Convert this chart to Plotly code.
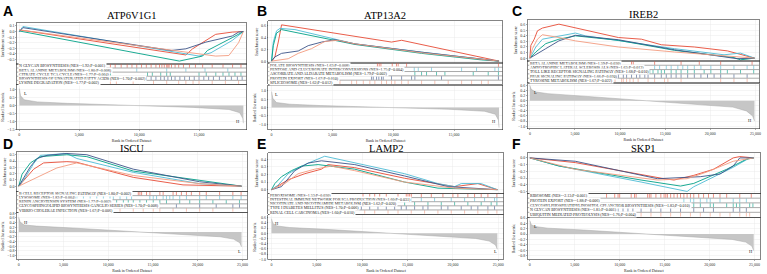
import plotly.graph_objects as go

NPG = ["#E64B35", "#4DBBD5", "#00A087", "#3C5488", "#F39B7F"]
SERIF = "Liberation Serif"

# ---------------- Panel A ----------------
A_gene = "ATP6V1G1"
A_sets = ["N GLYCAN BIOSYNTHESIS (NES=-1.92;P=0.001)",
          "BETA ALANINE METABOLISM (NES=-1.80;P=0.008)",
          "CITRATE CYCLE TCA CYCLE (NES=-1.77;P=0.004)",
          "BIOSYNTHESIS OF UNSATURATED FATTY ACIDS (NES=-1.70;P=0.002)",
          "LYSINE DEGRADATION (NES=-1.77;P=0.002)"]
A_es_rank = [[0, 13900, 14460, 15570, 16390, 17770, 18700],
             [0, 300, 15000, 16000, 17770, 18700],
             [0, 13360, 15290, 15700, 17770, 18700],
             [0, 300, 12670, 13900, 15570, 17770, 18300, 18700],
             [0, 16390, 17490, 18300, 18700]]
A_es = [[0.03, -0.42, -0.31, -0.16, -0.05, -0.01, 0.0],
        [0.0, 0.09, -0.44, -0.38, -0.16, 0.0],
        [0.01, -0.53, -0.44, -0.34, -0.11, 0.0],
        [0.0, 0.07, -0.34, -0.31, -0.19, -0.08, -0.01, 0.0],
        [0.03, -0.44, -0.43, -0.2, 0.0]]
A_hits = [[5800, 6200, 6500, 6800, 7200, 7600, 8000, 8500, 9000, 9400, 9800, 10200, 10600, 11000, 11400, 11700,
           11900, 12100, 12300, 12400, 12500, 12700, 13000, 13300, 13700, 14200, 14700, 15300, 16100, 17000, 17800, 18500],
          [9800, 12300, 13900, 15500, 17400],
          [7600, 10700, 11100, 11800, 12300, 12600, 15000, 15600, 16400, 17000, 17500, 18000, 18500],
          [7300, 7800, 8400, 8900, 9300, 9800, 10200, 10600, 11000, 11400, 11800, 12100, 12400, 12700, 13000, 13400,
           13800, 14200, 14600, 15000, 15400, 15800, 16200, 16700, 17200, 17700, 18200, 18600],
          [7600, 8100, 9500, 11200, 12300, 13300, 13900, 14500, 15000, 16100, 17200, 18300]]
A_metric_rank = [0, 100, 400, 1500, 4000, 9000, 14500, 17500, 18400, 18650, 18700]
A_metric = [1.05, 0.6, 0.35, 0.22, 0.13, 0.0, -0.12, -0.25, -0.45, -0.8, -1.1]

# ---------------- Panel B ----------------
B_gene = "ATP13A2"
B_sets = ["FOLATE BIOSYNTHESIS (NES=1.63;P=0.008)",
          "PENTOSE AND GLUCURONATE INTERCONVERSIONS (NES=1.75;P=0.004)",
          "ASCORBATE AND ALDARATE METABOLISM (NES=1.79;P=0.002)",
          "PROTEIN EXPORT (NES=1.67;P=0.010)",
          "SPLICEOSOME (NES=1.62;P=0.012)"]
B_es_rank = [[0, 270, 550, 820, 9860, 10690, 18700],
             [0, 140, 410, 690, 1920, 6850, 12330, 17260, 18700],
             [0, 140, 410, 820, 6850, 12330, 17260, 18700],
             [0, 270, 820, 2190, 3010, 4110, 5210, 6850, 12330, 17810, 18700],
             [0, 1370, 2190, 3290, 4380, 5480, 6850, 12330, 18700]]
B_es = [[0.0, 0.07, 0.32, 0.61, 0.32, 0.35, 0.0],
        [0.0, 0.32, 0.51, 0.55, 0.53, 0.29, 0.15, 0.03, 0.0],
        [0.0, 0.26, 0.47, 0.53, 0.28, 0.13, 0.02, 0.0],
        [0.0, 0.07, 0.13, 0.17, 0.26, 0.32, 0.36, 0.29, 0.15, 0.03, 0.0],
        [0.0, 0.04, 0.13, 0.21, 0.33, 0.35, 0.29, 0.14, 0.0]]
B_hits = [[8700, 8850, 8990, 9920, 10270, 10410, 11100, 18650],
          [11730, 12060, 13150, 15620, 16850, 18360, 18650],
          [11780, 12330, 12740, 13560, 14250, 16580, 17810, 18650],
          [8220, 8360, 8630, 8820, 9040, 9180, 9860, 10690, 11510, 11780, 13970, 18650],
          [5620, 6580, 6990, 7540, 8080, 8490, 9040, 9450, 9860, 10140, 10690, 11230, 12330, 13420, 14520, 15620,
           16440, 17260, 17810]]
B_metric_rank = [0, 100, 400, 1500, 4000, 9000, 14500, 17500, 18400, 18650, 18700]
B_metric = [0.95, 0.55, 0.3, 0.2, 0.12, 0.0, -0.1, -0.22, -0.4, -0.75, -1.2]

# ---------------- Panel C ----------------
C_gene = "IREB2"
C_sets = ["BETA ALANINE METABOLISM (NES=1.59;P=0.030)",
          "AMYOTROPHIC LATERAL SCLEROSIS ALS (NES=1.63;P=0.013)",
          "TOLL LIKE RECEPTOR SIGNALING PATHWAY (NES=1.68;P=0.010)",
          "PPAR SIGNALING PATHWAY (NES=1.66;P=0.020)",
          "TYROSINE METABOLISM (NES=1.67;P=0.022)"]
C_es_rank = [[0, 110, 480, 840, 1390, 3220, 9810, 12370, 14570, 18230, 21890, 24900],
             [0, 660, 1390, 3220, 5050, 6150, 9810, 16030, 21520, 23350, 24900],
             [0, 660, 1760, 3220, 5050, 9810, 16030, 22620, 23350, 24900],
             [0, 660, 1760, 3220, 5050, 9810, 16030, 22980, 24900],
             [0, 290, 840, 1390, 3220, 5050, 9810, 16030, 24900]]
C_es = [[0.0, 0.23, 0.34, 0.49, 0.54, 0.61, 0.37, 0.34, 0.24, 0.2, 0.13, 0.0],
        [0.0, 0.2, 0.34, 0.39, 0.45, 0.4, 0.31, 0.17, 0.06, 0.09, 0.0],
        [0.0, 0.11, 0.26, 0.34, 0.4, 0.32, 0.14, 0.01, -0.03, 0.0],
        [0.0, 0.06, 0.17, 0.31, 0.41, 0.33, 0.15, -0.01, 0.0],
        [0.0, 0.17, 0.34, 0.42, 0.37, 0.31, 0.2, 0.11, 0.0]]
C_hits = [[11270, 11460, 13830, 16760, 18780, 21150, 24630],
          [13830, 14380, 15120, 15660, 16400, 16950, 17490, 18230, 18960, 20060, 21150, 22620, 24080, 24810],
          [9990, 10170, 10540, 10910, 11460, 11820, 12370, 12740, 13290, 13650, 14200, 14570, 14930, 15660, 16210,
           16760, 17490, 18230, 19320, 20060, 21150, 21890, 23350, 24810],
          [9810, 10360, 10720, 11270, 11820, 12190, 12740, 13100, 13830, 14570, 15120, 15660, 16210, 16760, 17490,
           18230, 18960, 19690, 20420, 21150, 22620, 24080],
          [9440, 10170, 10360, 10720, 11090, 11460, 12000, 13100, 13830, 14930, 15300, 16760, 21150, 22620, 24080]]
C_metric_rank = [0, 150, 600, 2000, 6000, 12000, 18000, 22500, 24000, 24700, 24900]
C_metric = [0.6, 0.45, 0.35, 0.28, 0.18, 0.03, -0.12, -0.25, -0.4, -0.6, -0.8]

# ---------------- Panel D ----------------
D_gene = "ISCU"
D_sets = ["B CELL RECEPTOR SIGNALING PATHWAY (NES=1.80;P=0.002)",
          "LYSOSOME (NES=1.82;P=0.004)",
          "RENIN ANGIOTENSIN SYSTEM (NES=1.77;P=0.002)",
          "GLYCOSPHINGOLIPID BIOSYNTHESIS GANGLIO SERIES (NES=1.70;P=0.008)",
          "VIBRIO CHOLERAE INFECTION (NES=1.67;P=0.006)"]
D_es_rank = [[0, 560, 1670, 2780, 5380, 6490, 12800, 18360, 24900],
             [0, 740, 1670, 2410, 5380, 6490, 12800, 20220, 24900],
             [0, 370, 1300, 2410, 5380, 7610, 12800, 20220, 24900],
             [0, 560, 1300, 2040, 3150, 5380, 7610, 12800, 20220, 24900],
             [0, 1670, 3520, 4270, 6490, 12800, 20220, 24900]]
D_es = [[0.0, 0.09, 0.27, 0.37, 0.39, 0.38, 0.14, 0.02, 0.0],
        [0.0, 0.14, 0.36, 0.49, 0.52, 0.44, 0.22, 0.04, 0.0],
        [0.0, 0.19, 0.37, 0.47, 0.5, 0.47, 0.24, 0.09, 0.0],
        [0.0, 0.14, 0.31, 0.44, 0.49, 0.52, 0.5, 0.27, 0.07, 0.0],
        [0.0, 0.12, 0.24, 0.29, 0.37, 0.17, 0.04, 0.0]]
D_hits = [[13360, 13540, 13730, 14280, 14660, 15770, 16140, 17250, 17620, 18180, 18740, 19290, 20220, 20960, 22450,
           23930, 24850],
          [6490, 7230, 7980, 8720, 9460, 10200, 10570, 11320, 12060, 12610, 14650, 15030, 15400, 16140, 16510, 16880,
           17250, 17990, 18740, 20220, 20960, 22450, 23930, 24850],
          [8350, 9090, 9830, 10940, 11690, 12240, 12800, 13540, 14280, 15030, 15770, 16510, 17990, 19110, 20220, 21700,
           23190, 24670],
          [17620, 20220, 22070, 23930, 24670],
          [9460, 10200, 11320, 12800, 13910, 15030, 15770, 17250, 18740, 20220, 21700, 23930]]
D_metric_rank = [0, 150, 600, 2000, 6000, 12000, 18000, 22500, 24000, 24700, 24900]
D_metric = [0.62, 0.42, 0.3, 0.25, 0.17, 0.03, -0.1, -0.2, -0.3, -0.45, -0.62]

# ---------------- Panel E ----------------
E_gene = "LAMP2"
E_sets = ["PEROXISOME (NES=1.53;P=0.030)",
          "INTESTINAL IMMUNE NETWORK FOR IGA PRODUCTION (NES=1.60;P=0.031)",
          "NICOTINATE AND NICOTINAMIDE METABOLISM (NES=1.62;P=0.020)",
          "TYPE I DIABETES MELLITUS (NES=1.70;P=0.006)",
          "RENAL CELL CARCINOMA (NES=1.60;P=0.010)"]
E_es_rank = [[0, 1840, 3670, 5510, 6240, 9180, 14680, 20190, 22750, 24900],
             [0, 730, 1840, 3670, 5870, 9180, 14680, 18350, 20190, 20920, 23120, 24900],
             [0, 370, 1100, 2200, 3300, 5140, 9180, 14680, 18350, 24900],
             [0, 1100, 2570, 4040, 5510, 9180, 14680, 19450, 24900],
             [0, 1470, 2940, 4770, 6610, 9180, 14680, 20190, 24900]]
E_es = [[0.0, 0.13, 0.21, 0.27, 0.33, 0.29, 0.15, 0.04, 0.08, 0.0],
        [0.0, 0.06, 0.21, 0.33, 0.44, 0.35, 0.21, 0.08, 0.04, 0.08, 0.08, 0.0],
        [0.0, 0.08, 0.17, 0.25, 0.31, 0.33, 0.27, 0.1, 0.02, 0.0],
        [0.0, 0.04, 0.25, 0.35, 0.38, 0.33, 0.18, 0.04, 0.0],
        [0.0, 0.08, 0.21, 0.27, 0.31, 0.25, 0.1, 0.02, 0.0]]
E_hits = [[10090, 10830, 11380, 11930, 12660, 13950, 14860, 15050, 15230, 15420, 16520, 17620, 18900, 20000, 20550,
           21650, 22390, 23120, 23860, 24850],
          [14310, 15410, 16520, 17980, 19820, 21290, 22390, 23490, 24590, 24850],
          [10640, 11740, 12480, 13580, 14680, 15780, 17250, 18720, 20190, 21650, 23120, 24220, 24850],
          [8810, 9910, 10830, 11740, 12660, 13580, 14310, 14860, 15780, 16700, 17250, 18720, 19450, 20920, 22020, 22750,
           23860, 24590],
          [9180, 10280, 11380, 12850, 13950, 15410, 16880, 18350, 19820, 21290, 22750, 23860, 24850]]
E_metric_rank = [0, 150, 600, 2000, 6000, 12000, 18000, 22500, 24000, 24700, 24900]
E_metric = [0.56, 0.38, 0.28, 0.22, 0.15, 0.03, -0.1, -0.2, -0.3, -0.45, -0.62]

# ---------------- Panel F ----------------
F_gene = "SKP1"
F_sets = ["RIBOSOME (NES=-2.13;P=0.001)",
          "PROTEIN EXPORT (NES=-1.88;P=0.006)",
          "GLYCOSYLPHOSPHATIDYLINOSITOL GPI ANCHOR BIOSYNTHESIS (NES=-1.83;P=0.010)",
          "N GLYCAN BIOSYNTHESIS (NES=-1.81;P=0.001)",
          "UBIQUITIN MEDIATED PROTEOLYSIS (NES=-1.76;P=0.004)"]
F_es_rank = [[0, 5050, 14930, 16030, 18230, 20420, 22620, 23350, 24900],
             [0, 3220, 12370, 17490, 18230, 20420, 22620, 24450, 24900],
             [0, 3220, 12370, 16760, 18230, 20420, 21890, 24080, 24900],
             [0, 5050, 14200, 16760, 18960, 21150, 22620, 23350, 24900],
             [0, 5050, 14200, 17490, 19690, 22620, 24900]]
F_es = [[0.0, -0.07, -0.31, -0.33, -0.26, -0.17, 0.0, 0.02, 0.0],
        [0.0, -0.12, -0.36, -0.5, -0.43, -0.29, -0.14, 0.0, 0.0],
        [0.0, -0.12, -0.33, -0.42, -0.38, -0.26, -0.17, -0.02, 0.0],
        [0.0, -0.05, -0.31, -0.29, -0.28, -0.24, -0.12, 0.0, 0.0],
        [0.0, -0.17, -0.33, -0.31, -0.21, -0.05, 0.0]]
F_hits = [[8530, 9440, 9810, 9990, 11270, 11640, 11820, 13100, 13290, 13470, 14020, 14570, 14930, 15120, 15300, 15660,
           16030, 16400, 16760, 17130, 17490, 17860, 18230, 18780, 19320, 19870, 20420, 21150, 21890, 23350, 24630],
          [17130, 17860, 18230, 18960, 19690, 20060, 21150, 22620, 23350, 24080],
          [13100, 14930, 15300, 16030, 16760, 18230, 18960, 20060, 20420, 21890, 22620, 22980, 23350, 24450, 24810],
          [8710, 9260, 9810, 10360, 10910, 11460, 12370, 13470, 14570, 15660, 16760, 18230, 19320, 20420, 22620, 23350,
           24080],
          [10170, 11270, 12370, 13470, 14570, 15660, 16760, 17860, 18960, 20060, 21150, 22260, 23350, 24080, 24450]]
F_metric_rank = [0, 150, 600, 2000, 6000, 12000, 18000, 22500, 24000, 24700, 24900]
F_metric = [0.5, 0.35, 0.28, 0.22, 0.15, 0.03, -0.1, -0.2, -0.3, -0.45, -0.62]

LETTERS = ["A", "B", "C", "D", "E", "F"]
GENES = [A_gene, B_gene, C_gene, D_gene, E_gene, F_gene]
SETS = [A_sets, B_sets, C_sets, D_sets, E_sets, F_sets]
ES_RANKS = [A_es_rank, B_es_rank, C_es_rank, D_es_rank, E_es_rank, F_es_rank]
ES_VALS = [A_es, B_es, C_es, D_es, E_es, F_es]
HITS = [A_hits, B_hits, C_hits, D_hits, E_hits, F_hits]
M_RANKS = [A_metric_rank, B_metric_rank, C_metric_rank, D_metric_rank, E_metric_rank, F_metric_rank]
M_VALS = [A_metric, B_metric, C_metric, D_metric, E_metric, F_metric]
TOP_BOTTOM_TAGS = [("L", "H"), ("L", "H"), ("L", "H"), ("H", "L"), ("H", "L"), ("L", "H")]

# ---------------- Layout (pixels) ----------------
W, H = 767, 274
GEOM = [
    dict(x0=17, x1=247, es=(20, 62), hit=(62, 83), rank=(83, 129), xr=(-200, 18950), esr=(-0.58, 0.16), esd=0.1,
         rr=(-1.5, 1.3), rd=0.5, lx=1, ly=8, ty=13),
    dict(x0=269, x1=504, es=(18, 61), hit=(61, 83), rank=(84, 129), xr=(-270, 19000), esr=(-0.03, 0.68), esd=0.2,
         rr=(-1.32, 1.32), rd=0.5, lx=256, ly=8, ty=13),
    dict(x0=529, x1=761, es=(17, 59), hit=(59, 81), rank=(82, 128), xr=(-250, 25400), esr=(-0.05, 0.69), esd=0.1,
         rr=(-1.1, 0.68), rd=0.2, lx=511, ly=8, ty=12),
    dict(x0=17, x1=248, es=(152, 192), hit=(192, 213), rank=(214, 261), xr=(-200, 25550), esr=(-0.085, 0.54),
         esd=0.1, rr=(-1.15, 0.8), rd=0.2, lx=1, ly=144, ty=148),
    dict(x0=269, x1=505, es=(153, 194), hit=(194, 215), rank=(216, 261), xr=(-350, 25600), esr=(-0.05, 0.48),
         esd=0.1, rr=(-1.0, 0.7), rd=0.2, lx=256, ly=144, ty=148),
    dict(x0=529, x1=762, es=(153, 194), hit=(194, 218), rank=(219, 261), xr=(-250, 25600), esr=(-0.53, 0.07),
         esd=0.1, rr=(-0.94, 0.6), rd=0.2, lx=511, ly=144, ty=148),
]


def fx(px):
    return px / W


def fy(py):
    return 1 - py / H


fig = go.Figure()
layout = dict(width=W, height=H, margin=dict(l=0, r=0, t=0, b=0, pad=0), paper_bgcolor="white",
              plot_bgcolor="white", showlegend=False, font=dict(family=SERIF, size=4, color="#222"))
annotations = []
shapes = []

AX_STYLE = dict(showline=True, mirror=True, linecolor="#333", linewidth=0.6, zeroline=False,
                gridcolor="#e6e6e6", gridwidth=0.4, tickfont=dict(size=4, family=SERIF, color="#333"),
                ticks="outside", ticklen=1, tickwidth=0.4, tickcolor="#333")


def ax_names(n):
    return ("xaxis" if n == 1 else f"xaxis{n}", "yaxis" if n == 1 else f"yaxis{n}",
            "x" if n == 1 else f"x{n}", "y" if n == 1 else f"y{n}")


for p in range(6):
    g = GEOM[p]
    nmax = 25000 if g["xr"][1] > 20000 else 15000
    xticks = list(range(0, nmax + 1, 5000))
    xticktext = [f"{v:,}" for v in xticks]
    subs = [("es", g["es"]), ("hit", g["hit"]), ("rank", g["rank"])]
    for s, (kind, (ya, yb)) in enumerate(subs):
        n = p * 3 + s + 1
        xn, yn, xr_, yr_ = ax_names(n)
        xa = dict(AX_STYLE, domain=[fx(g["x0"]), fx(g["x1"])], anchor=yr_, range=list(g["xr"]),
                  tickvals=xticks, ticktext=xticktext)
        ya_ = dict(AX_STYLE, domain=[fy(yb), fy(ya)], anchor=xr_)
        if kind == "es":
            xa.update(showticklabels=False, ticks="")
            ya_.update(range=list(g["esr"]), dtick=g["esd"], tick0=0, tickformat=".1f",
                       title=dict(text="Enrichment score", font=dict(size=4, family=SERIF), standoff=2))
            for c in range(5):
                fig.add_trace(go.Scatter(x=ES_RANKS[p][c], y=ES_VALS[p][c], mode="lines",
                                         line=dict(color=NPG[c], width=0.9), xaxis=xr_, yaxis=yr_,
                                         hoverinfo="skip"))
        elif kind == "hit":
            xa.update(showticklabels=False, ticks="", showgrid=False)
            ya_.update(range=[0, 5], showticklabels=False, ticks="", showgrid=False)
            for c in range(5):
                xs, ys = [], []
                for h in HITS[p][c]:
                    xs += [h, h, None]
                    ys += [4 - c + 0.1, 4 - c + 0.9, None]
                fig.add_trace(go.Scatter(x=xs, y=ys, mode="lines", line=dict(color=NPG[c], width=0.6),
                                         xaxis=xr_, yaxis=yr_, hoverinfo="skip"))
                annotations.append(dict(x=g["xr"][0] + 0.004 * (g["xr"][1] - g["xr"][0]), y=4.5 - c,
                                        xref=xr_, yref=yr_, text=SETS[p][c], showarrow=False, xanchor="left",
                                        yanchor="middle", bgcolor="white", borderpad=0,
                                        font=dict(size=4, family=SERIF, color="#222")))
            for k in range(1, 5):
                shapes.append(dict(type="line", xref=f"{xr_} domain", yref=yr_, x0=0, x1=1, y0=k, y1=k,
                                   line=dict(color="#555", width=0.5)))
        else:
            ya_.update(range=list(g["rr"]), dtick=g["rd"], tick0=0, tickformat=".1f",
                       title=dict(text="Ranked list metric", font=dict(size=4, family=SERIF), standoff=2))
            xa.update(title=dict(text="Rank in Ordered Dataset", font=dict(size=4, family=SERIF), standoff=0))
            fig.add_trace(go.Scatter(x=M_RANKS[p], y=M_VALS[p], mode="lines", fill="tozeroy",
                                     fillcolor="#c6c6c6", line=dict(color="#a8a8a8", width=0.5),
                                     xaxis=xr_, yaxis=yr_, hoverinfo="skip"))
            top_tag, bot_tag = TOP_BOTTOM_TAGS[p]
            annotations.append(dict(x=0.02, y=0.9, xref=f"{xr_} domain", yref=f"{yr_} domain", text=top_tag,
                                    showarrow=False, font=dict(size=4.5, family=SERIF, color="#222")))
            annotations.append(dict(x=0.98, y=0.08, xref=f"{xr_} domain", yref=f"{yr_} domain", text=bot_tag,
                                    showarrow=False, font=dict(size=4.5, family=SERIF, color="#222")))
        layout[xn] = xa
        layout[yn] = ya_
    # panel letter and title
    annotations.append(dict(x=fx(g["lx"]), y=fy(g["ly"]), xref="paper", yref="paper", text=f"<b>{LETTERS[p]}</b>",
                            showarrow=False, xanchor="left", yanchor="middle",
                            font=dict(size=14, family="Liberation Sans", color="black")))
    annotations.append(dict(x=fx((g["x0"] + g["x1"]) / 2), y=fy(g["ty"]), xref="paper", yref="paper",
                            text=GENES[p], showarrow=False, xanchor="center", yanchor="middle",
                            font=dict(size=10.5, family=SERIF, color="black")))

layout["annotations"] = annotations
layout["shapes"] = shapes
fig.update_layout(**layout)
fig.write_html("out.html", config={"displayModeBar": False, "staticPlot": True},
               post_script="document.body.style.margin='0';document.body.style.padding='0';")
